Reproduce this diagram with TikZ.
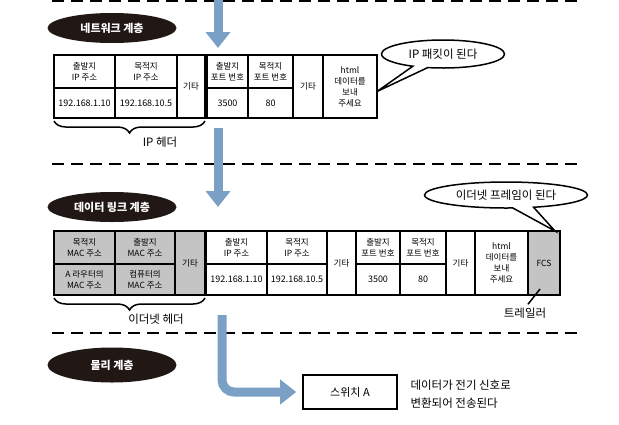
\documentclass[tikz,border=0pt]{standalone}
\usepackage{fontspec}
\setmainfont{Noto Sans CJK KR}
\usetikzlibrary{arrows.meta, positioning, calc, shapes.geometric, shapes.callouts, decorations.pathreplacing}

\begin{document}
\begin{tikzpicture}[x=1pt, y=-1pt,
	cell/.style={draw, line width=1.3pt, anchor=north west, inner sep=0pt, outer sep=0pt, align=center, font=\fontsize{8.5}{11}\selectfont},
	num/.style={cell, font=\fontsize{9}{11}\selectfont},
	hdr/.style={cell, fill=macgray},
	layer/.style={ellipse, fill=layerblack, text=white, minimum width=129pt, minimum height=30pt, inner sep=0pt, font=\fontsize{11}{13}\selectfont\bfseries},
	divider/.style={line width=2.6pt, dash pattern=on 12pt off 7pt},
	flow/.style={draw=flowblue, line width=9pt, -{Triangle[width=24pt,length=16pt]}},
	bubble/.style={ellipse callout, draw, line width=1.5pt, fill=white, inner sep=0pt, font=\fontsize{11.5}{13}\selectfont},
	hbrace/.style={decorate, decoration={brace, mirror, amplitude=12pt}, line width=1.5pt},
	note/.style={font=\fontsize{11.5}{13}\selectfont}]
	
	% Definizione dei colori
	\definecolor{flowblue}{RGB}{122,160,198}
	\definecolor{macgray}{RGB}{196,196,196}
	\definecolor{layerblack}{RGB}{33,24,22}
	
	\useasboundingbox (0,0) rectangle (619,424);
	
	% Linee di separazione
	\draw[divider] (52,0.5) -- (583,0.5);
	\draw[divider] (52,164) -- (583,164);
	\draw[divider] (52,333) -- (583,333);
	
	% Strato di rete
	\node[layer] (netlayer) at (112,28) {네트워크 계층};
	\node[cell, minimum width=61pt, minimum height=33pt] (ipsrc) at (54,55) {출발지\\IP 주소};
	\node[num, minimum width=61pt, minimum height=30pt] (ipsrcv) at (54,88) {192.168.1.10};
	\node[cell, minimum width=62pt, minimum height=33pt] (ipdst) at (115,55) {목적지\\IP 주소};
	\node[num, minimum width=62pt, minimum height=30pt] (ipdstv) at (115,88) {192.168.10.5};
	\node[cell, minimum width=28pt, minimum height=63pt] (ipetc) at (177,55) {기타};
	\node[cell, minimum width=41pt, minimum height=33pt] (psrc) at (207,55) {출발지\\포트 번호};
	\node[num, minimum width=41pt, minimum height=30pt] (psrcv) at (207,88) {3500};
	\node[cell, minimum width=45pt, minimum height=33pt] (pdst) at (248,55) {목적지\\포트 번호};
	\node[num, minimum width=45pt, minimum height=30pt] (pdstv) at (248,88) {80};
	\node[cell, minimum width=30pt, minimum height=63pt] (tcpetc) at (293,55) {기타};
	\node[cell, minimum width=54pt, minimum height=63pt] (data) at (323,55) {html\\데이터를\\보내\\주세요};
	\node[bubble, minimum width=123pt, minimum height=28pt, callout absolute pointer={([yshift=-5pt]data.east)}] (ipbub) at (443,54) {IP 패킷이 된다};
	\draw[hbrace] ([yshift=-3pt]ipsrcv.south west) -- ([yshift=-3pt]ipetc.south east);
	\node[note] (iphdr) at (160,142) {IP 헤더};
	
	% Strato di collegamento
	\node[layer] (linklayer) at (112,207) {데이터 링크 계층};
	\node[hdr, minimum width=61pt, minimum height=33pt] (macdst) at (54,231) {목적지\\MAC 주소};
	\node[hdr, minimum width=61pt, minimum height=31pt] (macdstv) at (54,264) {A 라우터의\\MAC 주소};
	\node[hdr, minimum width=60pt, minimum height=33pt] (macsrc) at (115,231) {출발지\\MAC 주소};
	\node[hdr, minimum width=60pt, minimum height=31pt] (macsrcv) at (115,264) {컴퓨터의\\MAC 주소};
	\node[hdr, minimum width=30pt, minimum height=64pt] (macetc) at (175,231) {기타};
	\node[cell, minimum width=61pt, minimum height=33pt] (ipsrc2) at (206,231) {출발지\\IP 주소};
	\node[num, minimum width=61pt, minimum height=31pt] (ipsrcv2) at (206,264) {192.168.1.10};
	\node[cell, minimum width=60pt, minimum height=33pt] (ipdst2) at (267,231) {목적지\\IP 주소};
	\node[num, minimum width=60pt, minimum height=31pt] (ipdstv2) at (267,264) {192.168.10.5};
	\node[cell, minimum width=29pt, minimum height=64pt] (ipetc2) at (327,231) {기타};
	\node[cell, minimum width=44pt, minimum height=33pt] (psrc2) at (356,231) {출발지\\포트 번호};
	\node[num, minimum width=44pt, minimum height=31pt] (psrcv2) at (356,264) {3500};
	\node[cell, minimum width=46pt, minimum height=33pt] (pdst2) at (400,231) {목적지\\포트 번호};
	\node[num, minimum width=46pt, minimum height=31pt] (pdstv2) at (400,264) {80};
	\node[cell, minimum width=29pt, minimum height=64pt] (tcpetc2) at (446,231) {기타};
	\node[cell, minimum width=53pt, minimum height=64pt] (data2) at (475,231) {html\\데이터를\\보내\\주세요};
	\node[hdr, minimum width=32pt, minimum height=64pt] (fcs) at (528,231) {FCS};
	\node[bubble, minimum width=163pt, minimum height=26pt, callout absolute pointer={([xshift=-5pt]fcs.north east)}] (ethbub) at (506,195) {이더넷 프레임이 된다};
	\draw[hbrace] ([yshift=-3pt]macdstv.south west) -- ([yshift=-3pt]macetc.south east);
	\node[note] (ethhdr) at (156,319) {이더넷 헤더};
	\node[note] (trailer) at (525,313) {트레일러};
	\draw[line width=1.5pt] ([xshift=-4pt,yshift=6pt]fcs.south) -- ([xshift=3pt]trailer.north);
	
	% Strato fisico
	\node[layer, minimum height=35pt] (phylayer) at (112,365) {물리 계층};
	\node[draw, line width=1.6pt, minimum width=94pt, minimum height=34pt, font=\fontsize{11}{13}\selectfont] (switch) at (350,392) {스위치 A};
	\node[anchor=west, align=left, font=\fontsize{11.5}{18}\selectfont] (signal) at (407,394) {데이터가 전기 신호로\\변환되어 전송된다};
	
	% Frecce
	\coordinate (a1s) at (218,-5);
	\coordinate (a1e) at (218,48);
	\coordinate (a2s) at (218,128);
	\coordinate (a2e) at (218,207);
	\coordinate (a3s) at (222,315);
	\draw[flow] (a1s) -- (a1e);
	\draw[flow] (a2s) -- (a2e);
	\draw[flow, rounded corners=12pt] (a3s) |- ([xshift=-6pt]switch.west);
	
\end{tikzpicture}
\end{document}
